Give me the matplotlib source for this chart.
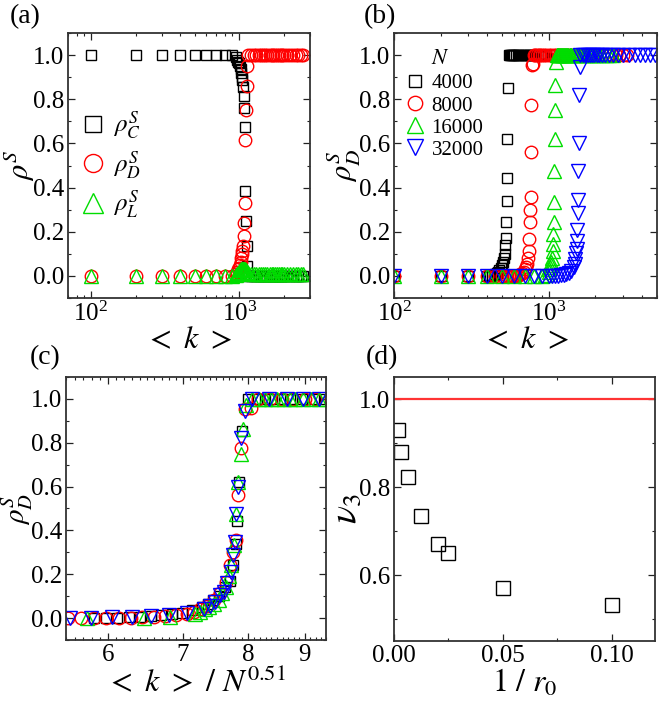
import numpy as np
import matplotlib
matplotlib.use('Agg')
import matplotlib.pyplot as plt
from matplotlib.ticker import (FixedLocator, NullFormatter, FixedFormatter,
                               MultipleLocator)
from matplotlib.lines import Line2D

plt.rcParams['font.family'] = ['Liberation Serif', 'DejaVu Serif']
plt.rcParams['mathtext.fontset'] = 'stix'

# ---------------- Panel (a) data ----------------
kA = [100, 200, 300, 400, 500, 600, 700, 800, 900,
      950, 970, 985, 1000, 1010, 1020, 1030, 1040, 1050, 1060, 1070, 1080,
      1090, 1100, 1110, 1120, 1130,
      1150, 1200, 1250, 1300, 1350, 1400, 1450, 1500, 1550, 1600, 1650, 1700,
      1750, 1800, 1850, 1900, 1950, 2000, 2100, 2200, 2300, 2400, 2500, 2600,
      2700]
rhoC = [1, 1, 1, 1, 1, 1, 1, 1, 1,
        0.99, 0.98, 0.97, 0.963, 0.95, 0.935, 0.917, 0.9, 0.887, 0.857, 0.815,
        0.76, 0.674, 0.384, 0.249, 0.137, 0.046,
        0, 0, 0, 0, 0, 0, 0, 0, 0, 0, 0, 0,
        0, 0, 0, 0, 0, 0, 0, 0, 0, 0, 0, 0,
        0]
rhoD = [0, 0, 0, 0, 0, 0, 0, 0, 0,
        0.01, 0.02, 0.03, 0.037, 0.05, 0.065, 0.08, 0.1, 0.113, 0.135, 0.18,
        0.24, 0.33, 0.617, 0.752, 0.86, 0.95,
        1, 1, 1, 1, 1, 1, 1, 1, 1, 1, 1, 1,
        1, 1, 1, 1, 1, 1, 1, 1, 1, 1, 1, 1,
        1]
rhoL = [0, 0, 0, 0, 0, 0, 0, 0, 0,
        0.005, 0.01, 0.015, 0.02, 0.025, 0.028, 0.03, 0.03, 0.03, 0.03, 0.03,
        0.03, 0.03, 0.028, 0.025, 0.02, 0.018,
        0.015, 0.01, 0.01, 0.01, 0.01, 0.01, 0.01, 0.01, 0.01, 0.01, 0.01, 0.01,
        0.01, 0.01, 0.01, 0.01, 0.01, 0.01, 0.01, 0.01, 0.01, 0.01, 0.01, 0.01,
        0.01]
labelsA = [r'$\rho_C^S$', r'$\rho_D^S$', r'$\rho_L^S$']

# ---------------- Panels (b), (c) data ----------------
N_values = [4000, 8000, 16000, 32000]
N_labels = ['4000', '8000', '16000', '32000']
scaling_exponent = 0.51

k4 = [100, 200, 300, 400, 410, 420, 430, 440, 450, 460, 470, 480, 490, 500,
      506, 512, 518, 524, 530, 533, 536, 538, 540, 543,
      550, 560, 570, 580, 590, 600, 615, 630, 645, 660, 680, 700, 720, 740,
      760, 780, 800, 825, 850, 875, 900, 930, 960]
r4 = [0, 0, 0, 0, 0, 0, 0.003, 0.005, 0.008, 0.012, 0.018, 0.025, 0.035, 0.05,
      0.065, 0.083, 0.1, 0.14, 0.17, 0.244, 0.34, 0.444, 0.62, 0.853,
      1, 1, 1, 1, 1, 1, 1, 1, 1, 1, 1, 1, 1, 1,
      1, 1, 1, 1, 1, 1, 1, 1, 1]

k8 = [100, 200, 300, 400, 450, 500,
      540, 555, 570, 585, 600, 615, 630, 645, 660, 675, 690,
      700, 710, 720, 730, 740, 748, 755, 760, 764, 768, 772, 778, 788,
      800, 820, 840, 860, 880, 900, 930, 960, 1000, 1040, 1080, 1120, 1170,
      1220, 1280, 1340, 1400, 1470, 1540, 1620, 1700, 1800, 1900, 2000, 2100,
      2250, 2400, 2550, 2700, 2850, 3000, 3200]
r8 = [0, 0, 0, 0, 0, 0,
      0, 0, 0, 0, 0, 0, 0.003, 0.005, 0.008, 0.012, 0.02,
      0.03, 0.04, 0.055, 0.083, 0.113, 0.165, 0.244, 0.3, 0.358, 0.56, 0.774,
      0.955, 0.96,
      1, 1, 1, 1, 1, 1, 1, 1, 1, 1, 1, 1, 1,
      1, 1, 1, 1, 1, 1, 1, 1, 1, 1, 1, 1,
      1, 1, 1, 1, 1, 1, 1]

k16 = [100, 200, 300, 400, 500, 600, 700, 800, 900,
       950, 1000, 1010, 1020, 1030, 1040, 1050, 1058, 1065, 1072, 1078, 1083,
       1088, 1093, 1099, 1104, 1110, 1125,
       1140, 1155, 1170, 1185, 1200, 1215, 1230, 1250, 1270, 1290, 1310, 1340,
       1370, 1400, 1440, 1480, 1520, 1570, 1620, 1680, 1740, 1800, 1870, 1950,
       2030, 2120, 2220, 2330, 2450, 2580]
r16 = [0, 0, 0, 0, 0, 0, 0, 0, 0,
       0.005, 0.02, 0.03, 0.04, 0.05, 0.065, 0.083, 0.113, 0.143, 0.19, 0.244,
       0.334, 0.474, 0.62, 0.75, 0.865, 0.97, 1,
       1, 1, 1, 1, 1, 1, 1, 1, 1, 1, 1, 1,
       1, 1, 1, 1, 1, 1, 1, 1, 1, 1, 1, 1,
       1, 1, 1, 1, 1, 1]

k32 = [100, 200, 300, 400, 500, 600, 700, 800, 900, 1000,
       1050, 1100, 1150, 1200, 1250, 1300, 1350, 1400, 1450, 1470, 1485, 1500,
       1512, 1522, 1532, 1540, 1546, 1550, 1556, 1565, 1580,
       1600, 1660, 1720, 1780, 1840, 1900, 1970, 2040, 2120, 2200, 2300, 2450,
       2600, 2800, 3000, 3300, 3600, 3900, 4200, 4500, 4850]
r32 = [0, 0, 0, 0, 0, 0, 0, 0, 0, 0,
       0, 0, 0, 0.003, 0.005, 0.008, 0.012, 0.023, 0.04, 0.053, 0.075, 0.106,
       0.12, 0.159, 0.21, 0.286, 0.346, 0.474, 0.6, 0.82, 0.947,
       1, 1, 1, 1, 1, 1, 1, 1, 1, 1, 1, 1,
       1, 1, 1, 1, 1, 1, 1, 1, 1]

# ---------------- Panel (d) data ----------------
inv_r0 = [0.002, 0.0033, 0.00625, 0.0125, 0.02, 0.025, 0.05, 0.1]
nu3 = [0.929, 0.880, 0.822, 0.735, 0.670, 0.651, 0.571, 0.532]

# ---------------- styles ----------------
BLACK = '#000000'
RED = '#ff0000'
GREEN = '#00dd00'
BLUE = '#0000ff'
series_k = [k4, k8, k16, k32]
series_r = [r4, r8, r16, r32]
series_style = [('s', BLACK, 7.2), ('o', RED, 9.0), ('^', GREEN, 9.5), ('v', BLUE, 9.5)]

W, H = 662, 711
fig = plt.figure(figsize=(W / 100, H / 100), dpi=100)


def box(l, t, r, b):
    return [l / W, 1 - b / H, (r - l) / W, (b - t) / H]


axA = fig.add_axes(box(68, 33, 310, 298))
axB = fig.add_axes(box(394, 33, 657, 298))
axC = fig.add_axes(box(66, 377, 326, 640))
axD = fig.add_axes(box(394, 377, 655, 641))

TICK_FS = 18
LABEL_FS = 23
YLAB_FS = 21


def style(ax):
    ax.tick_params(which='both', direction='in', top=True, right=True,
                   labelsize=TICK_FS, colors='#222222', labelcolor='black')
    ax.tick_params(which='major', length=5, width=0.9, pad=3)
    ax.tick_params(which='minor', length=2.5, width=0.8)
    for s in ax.spines.values():
        s.set_linewidth(1.3)
        s.set_color('#333333')


def rho_yaxis(ax):
    ax.set_ylim(-0.1, 1.1)
    ax.yaxis.set_major_locator(FixedLocator([0, 0.2, 0.4, 0.6, 0.8, 1.0]))
    ax.yaxis.set_major_formatter(FixedFormatter(['0.0', '0.2', '0.4', '0.6', '0.8', '1.0']))
    ax.yaxis.set_minor_locator(MultipleLocator(0.1))


# ---- (a) ----
mk = dict(linestyle='none', markerfacecolor='none', markeredgewidth=1.0)
axA.plot(kA, rhoC, marker='s', color=BLACK, markersize=7.5, **mk)
axA.plot(kA, rhoD, marker='o', color=RED, markersize=9.0, **mk)
axA.plot(kA, rhoL, marker='^', color=GREEN, markersize=9.5, **mk)
axA.set_xscale('log')
axA.set_xlim(70, 3000)
rho_yaxis(axA)
style(axA)
axA.set_xlabel(r'$<\ k\ >$', fontsize=LABEL_FS, labelpad=0)
axA.set_ylabel(r'$\rho^S$', fontsize=YLAB_FS + 1, labelpad=-3)
hA = [Line2D([], [], marker='s', color=BLACK, markersize=11.5, **mk),
      Line2D([], [], marker='o', color=RED, markersize=13, **mk),
      Line2D([], [], marker='^', color=GREEN, markersize=14, **mk)]
axA.legend(hA, labelsA, loc='center left', bbox_to_anchor=(0.0, 0.5),
           frameon=False, fontsize=18, handlelength=1.0, handletextpad=0.3,
           labelspacing=0.3, borderpad=0)

# ---- (b) ----
handlesB = []
for kk, rr, (m, c, ms) in zip(series_k, series_r, series_style):
    axB.plot(kk, rr, marker=m, color=c, markersize=ms, **mk)
    handlesB.append(Line2D([], [], marker=m, color=c, markersize=ms * 1.15, **mk))
axB.set_xscale('log')
axB.set_xlim(100, 5000)
rho_yaxis(axB)
style(axB)
axB.set_xlabel(r'$<\ k\ >$', fontsize=LABEL_FS, labelpad=0)
axB.set_ylabel(r'$\rho_D^S$', fontsize=YLAB_FS + 1, labelpad=-3)
axB.legend(handlesB, N_labels, loc='upper left', bbox_to_anchor=(0.0, 0.885),
           frameon=False, fontsize=15, handlelength=1.0, handletextpad=0.3,
           labelspacing=0.12, borderpad=0)
axB.text(0.14, 0.9, r'$N$', transform=axB.transAxes, fontsize=16,
         ha='left', va='center')

# ---- (c) ----
for kk, rr, N, (m, c, ms) in zip(series_k, series_r, N_values, series_style):
    xs = np.array(kk, dtype=float) / N ** scaling_exponent
    axC.plot(xs, rr, marker=m, color=c, markersize=ms, **mk)
axC.set_xscale('log')
axC.set_xlim(5.5, 9.4)
axC.xaxis.set_major_locator(FixedLocator([6, 7, 8, 9]))
axC.xaxis.set_major_formatter(FixedFormatter(['6', '7', '8', '9']))
axC.xaxis.set_minor_locator(FixedLocator(np.arange(5.5, 9.45, 0.1)))
axC.xaxis.set_minor_formatter(NullFormatter())
rho_yaxis(axC)
style(axC)
axC.set_xlabel(r'$<\ k\ >\ /\ N^{0.51}$', fontsize=LABEL_FS, labelpad=0)
axC.set_ylabel(r'$\rho_D^S$', fontsize=YLAB_FS, labelpad=-3)

# ---- (d) ----
axD.axhline(1.0, color='#ff3333', linewidth=1.6)
axD.plot(inv_r0, nu3, marker='s', color=BLACK, markersize=10, **mk)
axD.set_xlim(0, 0.12)
axD.set_ylim(0.45, 1.05)
axD.xaxis.set_major_locator(FixedLocator([0, 0.05, 0.10]))
axD.xaxis.set_major_formatter(FixedFormatter(['0.00', '0.05', '0.10']))
axD.xaxis.set_minor_locator(MultipleLocator(0.025))
axD.yaxis.set_major_locator(FixedLocator([0.6, 0.8, 1.0]))
axD.yaxis.set_major_formatter(FixedFormatter(['0.6', '0.8', '1.0']))
axD.yaxis.set_minor_locator(MultipleLocator(0.1))
style(axD)
axD.set_xlabel(r'$1\ /\ r_0$', fontsize=LABEL_FS, labelpad=0)
axD.set_ylabel(r'$\nu_3$', fontsize=LABEL_FS + 4, labelpad=-4)

# panel labels
for txt, x, y in [('(a)', 10, 4), ('(b)', 364, 4), ('(c)', 30, 345), ('(d)', 366, 345)]:
    fig.text(x / W, 1 - y / H, txt, fontsize=20, ha='left', va='top')

fig.savefig('out.png', dpi=100)
